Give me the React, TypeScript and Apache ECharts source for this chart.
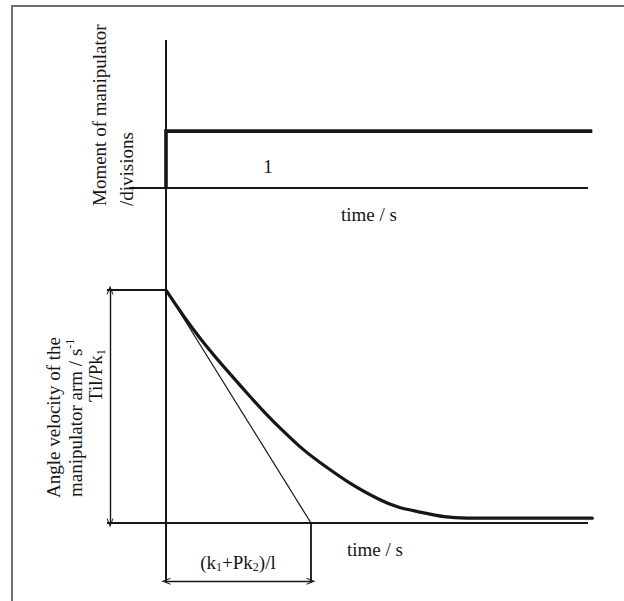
import React, { useEffect, useRef } from "react";
import * as echarts from "echarts";

// ---- Data (schematic units: time in units of (k1+Pk2)/l, values normalised) ----
// Upper diagram: moment of manipulator (step)
const stepTime = [0, 0, 2.94];
const stepMoment = [0, 1, 1];
const stepLevelLabel = "1";

// Lower diagram: angle velocity of the manipulator arm (decay curve)
const velTime = [0, 0.234, 0.51, 0.786, 1.062, 1.476, 1.752, 2.076, 2.94];
const velValue = [1, 0.794, 0.592, 0.408, 0.26, 0.1, 0.047, 0.021, 0.021];

// Initial tangent of the decay curve
const tangentTime = [0, 1];
const tangentValue = [1, 0];

// Characteristic quantities
const omega0 = 1; // Til/Pk1
const tau = 1; // (k1+Pk2)/l

// Axis extents (schematic)
const topYMax = 2.6;
const botYMin = -0.26;
const botYMax = 1.44;
const xMin = -0.5;
const xMax = 3.0;
const baselineEnd = 2.91;
const topBaselineStart = -0.255;
const botTickStart = -0.407;
const arrowX = -0.386;
const arrowY = -0.25;
const dropEnd = -0.255;

const INK = "#161616";
const FONT = "Liberation Serif, Times New Roman, serif";
const chevron = "path://M5,0 L10,10 L8.6,10 L5,3.2 L1.4,10 L0,10 Z";

const zip = (a: number[], b: number[]) => a.map((v, i) => [v, b[i]]);

export default function App() {
  const ref = useRef<HTMLDivElement>(null);

  useEffect(() => {
    if (!ref.current) return;
    const chart = echarts.init(ref.current, null, { renderer: "svg" });

    const lineSeries = (
      name: string,
      data: number[][],
      grid: number,
      width: number,
      extra: any = {}
    ) => ({
      name,
      type: "line",
      xAxisIndex: grid,
      yAxisIndex: grid,
      data,
      symbol: "none",
      clip: false,
      silent: true,
      lineStyle: { color: INK, width, cap: "butt", join: "miter" },
      ...extra,
    });

    const rich = {
      m: { fontFamily: FONT, fontSize: 19, lineHeight: 22, color: INK },
      sub: { fontFamily: FONT, fontSize: 12, lineHeight: 12, color: INK, verticalAlign: "bottom" },
      sup: { fontFamily: FONT, fontSize: 12, lineHeight: 12, color: INK, verticalAlign: "top" },
    };

    const txt = (x: number, y: number, text: string, opts: any = {}) => ({
      type: "text",
      x,
      y,
      rotation: opts.rotation || 0,
      silent: true,
      style: {
        text,
        rich,
        font: `19px ${FONT}`,
        fill: INK,
        align: opts.align || "center",
        verticalAlign: "middle",
      },
    });

    const R = Math.PI / 2;

    chart.setOption({
      animation: false,
      backgroundColor: "#ffffff",
      grid: [
        { left: 93.5, right: 23, top: 40, height: 148 },
        { left: 93.5, right: 23, top: 187.5, height: 396.1 },
      ],
      xAxis: [
        { type: "value", gridIndex: 0, min: xMin, max: xMax, show: false },
        { type: "value", gridIndex: 1, min: xMin, max: xMax, show: false },
      ],
      yAxis: [
        { type: "value", gridIndex: 0, min: 0, max: topYMax, show: false },
        { type: "value", gridIndex: 1, min: botYMin, max: botYMax, show: false },
      ],
      series: [
        // upper diagram
        lineSeries("axisTop", [[0, 0], [0, topYMax]], 0, 2),
        lineSeries("baseTop", [[topBaselineStart, 0], [baselineEnd, 0]], 0, 1.8),
        lineSeries("moment", zip(stepTime, stepMoment), 0, 3.6),
        // lower diagram
        lineSeries("axisBot", [[0, botYMax], [0, dropEnd]], 1, 2),
        lineSeries("baseBot", [[botTickStart, 0], [baselineEnd, 0]], 1, 1.8),
        lineSeries("tickTop", [[botTickStart, omega0], [0, omega0]], 1, 1.8, {
          markLine: {
            silent: true,
            symbol: [chevron, chevron],
            symbolSize: [7, 9],
            label: { show: false },
            lineStyle: { color: INK, width: 1.4, type: "solid" },
            data: [
              [{ coord: [arrowX, omega0] }, { coord: [arrowX, 0] }],
              [{ coord: [0, arrowY] }, { coord: [tau, arrowY] }],
            ],
          },
        }),
        lineSeries("drop", [[tau, 0], [tau, dropEnd]], 1, 1.8),
        lineSeries("tangent", zip(tangentTime, tangentValue), 1, 1.2),
        lineSeries("velocity", zip(velTime, velValue), 1, 3.2, {
          smooth: 0.4,
          lineStyle: { color: INK, width: 3.2, cap: "round", join: "round" },
        }),
      ],
      graphic: [
        {
          type: "rect",
          silent: true,
          shape: { x: 12, y: 6, width: 700, height: 700 },
          style: { fill: "none", stroke: "#707070", lineWidth: 2 },
        },
        txt(99.5, 206, "Moment of manipulator", { rotation: R, align: "left" }),
        txt(126.5, 206, "/divisions", { rotation: R, align: "left" }),
        txt(268, 166, stepLevelLabel),
        txt(369, 214, "time / s"),
        txt(53.5, 498, "Angle velocity of the", { rotation: R, align: "left" }),
        txt(75, 497, "{m|manipulator arm / s}{sup|-1}", { rotation: R, align: "left" }),
        txt(95.5, 402, "{m|Til/Pk}{sub|1}", { rotation: R, align: "left" }),
        txt(375, 549, "time / s"),
        txt(238, 562, "{m|(k}{sub|1}{m|+Pk}{sub|2}{m|)/l}"),
      ],
    });

    return () => chart.dispose();
  }, []);

  return (
    <div
      ref={ref}
      style={{ position: "fixed", left: 0, top: 0, width: 624, height: 601, background: "#fff" }}
    />
  );
}
